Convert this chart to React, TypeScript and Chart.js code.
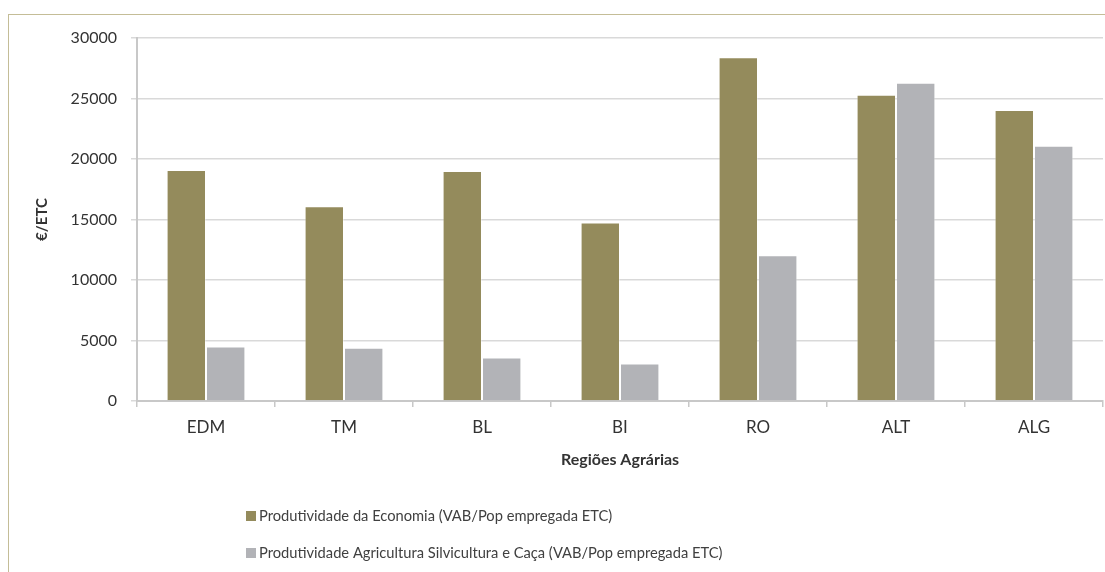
import React, { useEffect, useRef } from "react";
import { Chart, registerables } from "chart.js";

Chart.register(...registerables);

const categories = ["EDM", "TM", "BL", "BI", "RO", "ALT", "ALG"];
const economia = [19100, 16100, 19000, 14750, 28400, 25300, 24050];
const agricultura = [4500, 4400, 3600, 3100, 12050, 26300, 21100];
const seriesLabels = [
  "Produtividade da Economia (VAB/Pop empregada ETC)",
  "Produtividade Agricultura Silvicultura e Caça (VAB/Pop empregada ETC)",
];
const seriesColors = ["#948B5C", "#B2B3B7"];
const yTitle = "€/ETC";
const xTitle = "Regiões Agrárias";

const FONT = "Lato, 'Open Sans', sans-serif";

const customLegend = {
  id: "customLegend",
  afterDraw(chart: any) {
    const { ctx, chartArea } = chart;
    const x0 = chartArea.left + 109;
    const rows = [chartArea.bottom + 115, chartArea.bottom + 152];
    ctx.save();
    ctx.font = `14.7px ${FONT}`;
    ctx.textBaseline = "middle";
    ctx.textAlign = "left";
    chart.data.datasets.forEach((ds: any, i: number) => {
      const y = rows[i];
      ctx.fillStyle = ds.backgroundColor;
      ctx.fillRect(x0, y - 5, 10, 10);
      ctx.fillStyle = "#404040";
      ctx.fillText(ds.label, x0 + 13, y);
    });
    ctx.restore();
  },
};

export default function App() {
  const ref = useRef<HTMLCanvasElement>(null);
  useEffect(() => {
    if (!ref.current) return;
    const chart = new Chart(ref.current, {
      type: "bar",
      data: {
        labels: categories,
        datasets: [
          {
            label: seriesLabels[0],
            data: economia,
            backgroundColor: seriesColors[0],
            borderColor: "rgba(255,255,255,0.35)",
            borderWidth: 1,
          },
          {
            label: seriesLabels[1],
            data: agricultura,
            backgroundColor: seriesColors[1],
            borderColor: "rgba(255,255,255,0.35)",
            borderWidth: 1,
          },
        ],
      },
      options: {
        responsive: false,
        animation: false,
        devicePixelRatio: 1,
        categoryPercentage: 0.571,
        barPercentage: 1.0,
        layout: { padding: { left: 25, top: 38, right: 2, bottom: 101 } },
        plugins: {
          legend: { display: false },
          tooltip: { enabled: false },
        },
        scales: {
          x: {
            grid: {
              display: true,
              drawOnChartArea: false,
              drawTicks: true,
              tickLength: 6,
              color: "#c8c8c8",
              lineWidth: 1.5,
              offset: true,
            },
            border: { color: "#c8c8c8", width: 2 },
            ticks: {
              color: "#333333",
              font: { family: FONT, size: 17 },
              padding: 10,
            },
            title: {
              display: true,
              text: xTitle,
              color: "#333333",
              font: { family: FONT, size: 16, weight: "bold" },
              padding: { top: 0, bottom: 2 },
            },
            afterFit(axis: any) {
              axis.height = 70;
            },
          },
          y: {
            min: 0,
            max: 30000,
            ticks: {
              stepSize: 5000,
              color: "#333333",
              font: { family: FONT, size: 16 },
              padding: 14,
              callback: (v: any) => String(v),
            },
            grid: {
              color: "#d9d9d9",
              lineWidth: 1.5,
              drawTicks: true,
              tickLength: 6,
            },
            border: { color: "#c8c8c8", width: 2 },
            title: {
              display: true,
              text: yTitle,
              color: "#333333",
              font: { family: FONT, size: 15, weight: "bold" },
              padding: { top: 8, bottom: 0 },
            },
            afterFit(axis: any) {
              axis.width = 112;
            },
          },
        },
      },
      plugins: [customLegend],
    });
    return () => chart.destroy();
  }, []);

  return (
    <div style={{ position: "absolute", left: 0, top: 0, width: 1105, height: 572, overflow: "hidden", background: "#fff" }}>
      <div
        style={{
          position: "absolute",
          left: 8,
          top: 14,
          width: 1200,
          height: 800,
          borderTop: "1.5px solid #c4bd97",
          borderLeft: "1.5px solid #c4bd97",
        }}
      />
      <canvas ref={ref} width={1105} height={572} style={{ position: "absolute", left: 0, top: 0 }} />
    </div>
  );
}
